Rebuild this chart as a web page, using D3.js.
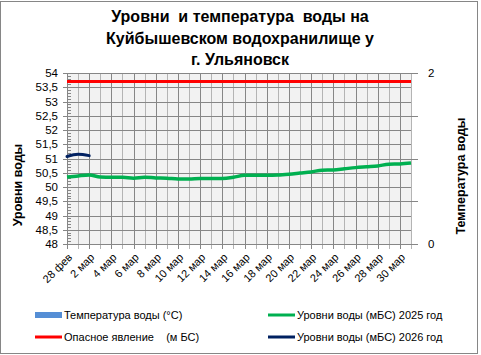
<!DOCTYPE html>
<html>
<head>
<meta charset="utf-8">
<script src="https://cdn.jsdelivr.net/npm/d3@7"></script>
<style>
body { margin: 0; background: #fff; }
text { font-family: "Liberation Sans", Arial, sans-serif; fill: #000; white-space: pre; }
</style>
</head>
<body>
<div id="chart"></div>
<script>
// categories: 28 фев + 1..31 мар
var dates = ["28 фев"].concat(d3.range(1, 32).map(function(d) { return d + " мар"; }));

// water levels 2025 (m BS)
var level2025 = [50.35, 50.39, 50.42, 50.35, 50.34, 50.34, 50.31, 50.34, 50.32, 50.31,
                 50.28, 50.28, 50.30, 50.30, 50.30, 50.34, 50.41, 50.41, 50.41, 50.42,
                 50.45, 50.49, 50.53, 50.59, 50.60, 50.64, 50.68, 50.71, 50.74, 50.80,
                 50.81, 50.84];
// water levels 2026 (only first days)
var level2026 = [51.07, 51.15, 51.10];
// dangerous level
var danger = dates.map(function() { return 53.7; });
// water temperature - no values yet
var temperature = [];

var leftTicks = d3.range(48, 54.001, 0.5);
var rightTicks = [0, 2];
var titleLines = ["Уровни  и температура  воды на", "Куйбышевском водохранилище у", "г. Ульяновск"];

var width = 481, height = 355;
var margin = {top: 73, left: 67, right: 70, bottom: 111};

var svg = d3.select("#chart").append("svg")
    .attr("width", width)
    .attr("height", height);

// chart border
svg.append("rect")
    .attr("x", 0.5).attr("y", 1.5)
    .attr("width", 477).attr("height", 352)
    .attr("fill", "none")
    .attr("stroke", "#868686");

var xScale = d3.scalePoint()
    .domain(dates)
    .range([margin.left, width - margin.right]);

var yScale = d3.scaleLinear()
    .domain([48, 54])
    .range([height - margin.bottom, margin.top]);

var y2Scale = d3.scaleLinear()
    .domain([0, 2])
    .range([height - margin.bottom, margin.top]);

var x0 = margin.left, x1 = width - margin.right;
var yb = height - margin.bottom, yt = margin.top;

// plot background
svg.append("rect")
    .attr("x", x0).attr("y", yt)
    .attr("width", x1 - x0).attr("height", yb - yt)
    .attr("fill", "#f2f2f2");

// vertical grid: darker on labelled dates
svg.append("g").selectAll("line")
    .data(dates)
    .enter().append("line")
    .attr("x1", function(d) { return Math.round(xScale(d)) + 0.5; })
    .attr("x2", function(d) { return Math.round(xScale(d)) + 0.5; })
    .attr("y1", yt).attr("y2", yb + 5)
    .attr("stroke", function(d, i) { return i % 2 == 0 ? "#868686" : "#b4b4b4"; })
    .attr("stroke-width", 1);

// horizontal grid
svg.append("g").selectAll("line")
    .data(leftTicks)
    .enter().append("line")
    .attr("x1", x0 - 4).attr("x2", x1)
    .attr("y1", function(d) { return Math.round(yScale(d)) + 0.5; })
    .attr("y2", function(d) { return Math.round(yScale(d)) + 0.5; })
    .attr("stroke", "#868686");

// left axis minor ticks
svg.append("g").selectAll("line")
    .data(d3.range(48, 54.001, 0.1))
    .enter().append("line")
    .attr("x1", x0).attr("x2", x0 + 4)
    .attr("y1", function(d) { return Math.round(yScale(d)) + 0.5; })
    .attr("y2", function(d) { return Math.round(yScale(d)) + 0.5; })
    .attr("stroke", "#868686");

svg.append("line")
    .attr("x1", x0 + 0.5).attr("x2", x0 + 0.5)
    .attr("y1", yt).attr("y2", yb)
    .attr("stroke", "#868686");

// left axis labels
svg.append("g").selectAll("text")
    .data(leftTicks)
    .enter().append("text")
    .attr("x", 58)
    .attr("y", function(d) { return yScale(d) + 4; })
    .attr("text-anchor", "end")
    .style("font-size", "11.5px")
    .text(function(d) { return d3.format(".1~f")(d).replace(".", ","); });

// right axis
svg.append("g").selectAll("line")
    .data(d3.range(0, 2.001, 0.5))
    .enter().append("line")
    .attr("x1", x1).attr("x2", x1 + 7)
    .attr("y1", function(d) { return Math.round(y2Scale(d)) + 0.5; })
    .attr("y2", function(d) { return Math.round(y2Scale(d)) + 0.5; })
    .attr("stroke", "#868686");

svg.append("g").selectAll("text")
    .data(rightTicks)
    .enter().append("text")
    .attr("x", 428)
    .attr("y", function(d) { return y2Scale(d) + 4; })
    .style("font-size", "11.5px")
    .text(function(d) { return d; });

// bottom axis
svg.append("line")
    .attr("x1", x0).attr("x2", x1 + 1)
    .attr("y1", yb + 0.5).attr("y2", yb + 0.5)
    .attr("stroke", "#868686");

svg.append("g").selectAll("text")
    .data(dates.filter(function(d, i) { return i % 2 == 0; }))
    .enter().append("text")
    .attr("text-anchor", "end")
    .attr("transform", function(d) { return "translate(" + (xScale(d) + 6) + "," + (yb + 14) + ") rotate(-45)"; })
    .style("font-size", "11px")
    .text(function(d) { return d; });

// temperature bars (empty for now)
svg.append("g").selectAll("rect")
    .data(temperature)
    .enter().append("rect")
    .attr("x", function(d, i) { return xScale(dates[i]) - 3; })
    .attr("y", function(d) { return y2Scale(d); })
    .attr("width", 6)
    .attr("height", function(d) { return yb - y2Scale(d); })
    .attr("fill", "#558ed5");

// lines
var line = d3.line()
    .x(function(d, i) { return xScale(dates[i]); })
    .y(function(d) { return yScale(d); })
    .curve(d3.curveMonotoneX);

svg.append("path").datum(danger)
    .attr("d", line).attr("fill", "none")
    .attr("stroke", "#ff0000").attr("stroke-width", 3);

svg.append("path").datum(level2025)
    .attr("d", line).attr("fill", "none")
    .attr("stroke", "#00b050").attr("stroke-width", 3.5);

svg.append("path").datum(level2026)
    .attr("d", line).attr("fill", "none")
    .attr("stroke", "#002060").attr("stroke-width", 3)
    .attr("stroke-linecap", "round");

// title
svg.append("g").selectAll("text")
    .data(titleLines)
    .enter().append("text")
    .attr("x", 240)
    .attr("y", function(d, i) { return 22 + i * 21.5; })
    .attr("text-anchor", "middle")
    .style("font-size", "16px")
    .style("font-weight", "bold")
    .text(function(d) { return d; });

// axis titles
svg.append("text")
    .attr("transform", "translate(22,185) rotate(-90)")
    .attr("text-anchor", "middle")
    .style("font-size", "12.5px")
    .style("font-weight", "bold")
    .text("Уровни воды");

svg.append("text")
    .attr("transform", "translate(465,176) rotate(-90)")
    .attr("text-anchor", "middle")
    .style("font-size", "12.5px")
    .style("font-weight", "bold")
    .text("Температура воды");

// legend
var legendItems = [
    {label: "Температура воды (°С)", color: "#558ed5", type: "rect", x: 35, y: 315},
    {label: "Опасное явление    (м БС)", color: "#ff0000", type: "line", x: 35, y: 337},
    {label: "Уровни воды (мБС) 2025 год", color: "#00b050", type: "line", x: 268, y: 315},
    {label: "Уровни воды (мБС) 2026 год", color: "#002060", type: "line", x: 268, y: 337}
];

var legend = svg.append("g").selectAll("g")
    .data(legendItems)
    .enter().append("g")
    .attr("transform", function(d) { return "translate(" + d.x + "," + d.y + ")"; });

legend.filter(function(d) { return d.type == "rect"; })
    .append("rect")
    .attr("x", 0).attr("y", -3)
    .attr("width", 27).attr("height", 6)
    .attr("fill", function(d) { return d.color; });

legend.filter(function(d) { return d.type == "line"; })
    .append("line")
    .attr("x1", 0).attr("x2", 27)
    .attr("y1", 0).attr("y2", 0)
    .attr("stroke", function(d) { return d.color; })
    .attr("stroke-width", 3);

legend.append("text")
    .attr("x", 29).attr("y", 4)
    .style("font-size", "11px")
    .text(function(d) { return d.label; });
</script>
</body>
</html>
